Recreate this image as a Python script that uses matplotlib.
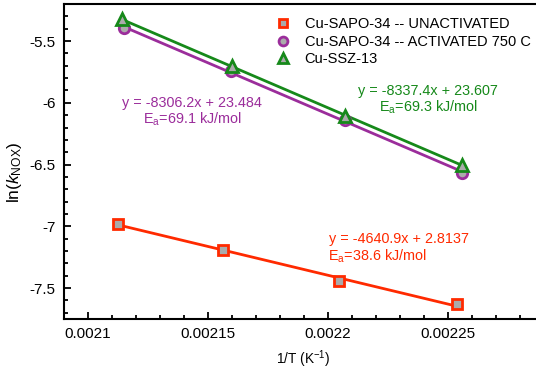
import matplotlib
matplotlib.use('Agg')
import matplotlib.pyplot as plt
import numpy as np
from matplotlib.ticker import MultipleLocator

plt.rcParams['font.family'] = ['Liberation Sans', 'DejaVu Sans']
plt.rcParams['mathtext.fontset'] = 'custom'
plt.rcParams['mathtext.rm'] = 'Liberation Sans'
plt.rcParams['mathtext.it'] = 'Liberation Sans:italic'

# data: 1/T (K^-1) and ln(k_NOx)
x_unact = [0.0021124, 0.0021564, 0.0022046, 0.0022539]
y_unact = [-6.978, -7.195, -7.440, -7.632]

x_act = [0.0021150, 0.0021596, 0.0022071, 0.0022560]
y_act = [-5.397, -5.743, -6.143, -6.567]

x_ssz = [0.0021140, 0.0021599, 0.0022071, 0.0022560]
y_ssz = [-5.324, -5.703, -6.105, -6.505]

labels = ['Cu-SAPO-34 -- UNACTIVATED', 'Cu-SAPO-34 -- ACTIVATED 750 C', 'Cu-SSZ-13']
colors = ['#ff2a00', '#9b2d9b', '#16891a']

W, H = 536, 370
fig = plt.figure(figsize=(W / 100, H / 100), dpi=100)
ax = fig.add_axes([64 / W, 51 / H, (568 - 64) / W, (319 - 4) / H])

series = [(x_unact, y_unact, 's'), (x_act, y_act, 'o'), (x_ssz, y_ssz, '^')]
handles = []
for (xs, ys, mk), col, lab in zip(series, colors, labels):
    # trend line from a linear fit of the points
    p = np.polyfit(xs, ys, 1)
    xx = np.array([min(xs), max(xs)])
    ax.plot(xx, np.polyval(p, xx), color=col, lw=2, zorder=2)
    h, = ax.plot(xs, ys, mk, ms=7.5 if mk != '^' else 8, mfc='#ababab', mec=col,
                 mew=2, ls='none', label=lab, zorder=3)
    handles.append(h)

ax.set_xlim(0.00209, 0.0023)
ax.set_ylim(-7.75, -5.2)
ax.xaxis.set_major_locator(MultipleLocator(0.00005))
ax.xaxis.set_minor_locator(MultipleLocator(0.00001))
ax.yaxis.set_major_locator(MultipleLocator(0.5))
ax.yaxis.set_minor_locator(MultipleLocator(0.1))
ax.set_xticks([0.0021, 0.00215, 0.0022, 0.00225])
ax.set_xticklabels(['0.0021', '0.00215', '0.0022', '0.00225'])
ax.set_yticks([-7.5, -7, -6.5, -6, -5.5])
ax.set_yticklabels(['-7.5', '-7', '-6.5', '-6', '-5.5'])
ax.tick_params(which='both', direction='in', labelsize=11, width=1.3, top=False, right=False)
ax.tick_params(which='major', length=5, pad=6)
ax.tick_params(which='minor', length=3)
for s in ['left', 'bottom', 'top']:
    ax.spines[s].set_linewidth(1.5)
ax.spines['right'].set_visible(False)

fig.text(303 / W, 1 - 359 / H, r'1/T (K$^{-1}$)', ha='center', va='center', fontsize=9.8)
fig.text(14 / W, 1 - 172 / H, r'ln($\mathit{k}_{\rm NOX}$)', ha='center', va='center',
         fontsize=12.5, rotation=90)

leg = ax.legend(handles=handles, loc='upper left', bbox_to_anchor=((277 - 64) / (568 - 64), 1 - 13 / 315),
                frameon=False, fontsize=10.5, handlelength=0.8, handletextpad=1.1, markerscale=0.85,
                labelspacing=0.25, borderpad=0, borderaxespad=0)

fig.text(192 / W, 1 - 103 / H, 'y = -8306.2x + 23.484', color=colors[1], ha='center', va='center', fontsize=10.4)
fig.text(192 / W, 1 - 119 / H, r'E$_{\rm a}$=69.1 kJ/mol', color=colors[1], ha='center', va='center', fontsize=10.4)
fig.text(428 / W, 1 - 91 / H, 'y = -8337.4x + 23.607', color=colors[2], ha='center', va='center', fontsize=10.4)
fig.text(428 / W, 1 - 107 / H, r'E$_{\rm a}$=69.3 kJ/mol', color=colors[2], ha='center', va='center', fontsize=10.4)
fig.text(399 / W, 1 - 239 / H, 'y = -4640.9x + 2.8137', color=colors[0], ha='center', va='center', fontsize=10.4)
fig.text(328 / W, 1 - 256 / H, r'E$_{\rm a}$=38.6 kJ/mol', color=colors[0], ha='left', va='center', fontsize=10.4)

fig.savefig('out.png', dpi=100)
